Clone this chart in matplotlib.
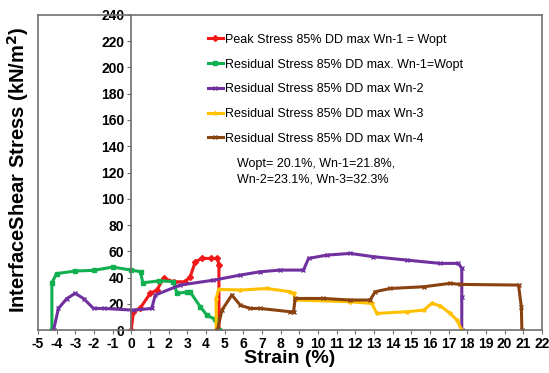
import matplotlib
matplotlib.use('Agg')
import matplotlib.pyplot as plt

plt.rcParams['font.family'] = ['Liberation Sans', 'DejaVu Sans']
plt.rcParams['axes.unicode_minus'] = False

# Peak stress, Wn-1 = Wopt
peak_x = [0.0, 0.12, 0.48, 1.02, 1.38, 1.73, 2.27, 2.86, 3.16, 3.43, 3.79, 4.3, 4.62, 4.7, 4.7]
peak_y = [0.0, 14.0, 16.7, 28.0, 30.5, 39.6, 36.8, 36.8, 40.6, 52.0, 54.6, 54.6, 54.6, 49.5, 0.0]

# Residual stress, Wn-1 = Wopt
res1_x = [-4.25, -4.25, -4.0, -3.0, -2.0, -1.0, 0.0, 0.5, 0.62, 1.5, 2.26, 2.45, 3.0, 3.16, 3.7, 4.05, 4.5, 4.68]
res1_y = [0.0, 36.0, 43.0, 45.0, 45.5, 48.0, 45.7, 44.5, 36.0, 37.5, 37.0, 28.0, 29.0, 29.0, 17.8, 11.4, 8.1, 0.0]

# Residual stress Wn-2
res2_x = [-4.16, -3.9, -3.45, -3.0, -2.55, -2.02, -1.48, 0.1, 1.1, 1.29, 2.62, 4.4, 5.84, 6.9, 7.98, 9.23,
          9.5, 10.48, 11.73, 12.98, 14.77, 16.55, 17.53, 17.71, 17.71, 17.71]
res2_y = [0.0, 16.5, 24.0, 28.0, 24.0, 16.5, 16.5, 15.2, 16.5, 26.7, 34.3, 38.0, 41.9, 44.4, 45.7, 45.7,
          54.6, 57.1, 58.4, 55.9, 53.3, 50.8, 50.8, 47.0, 25.4, 0.0]

# Residual stress Wn-3
res3_x = [4.55, 4.55, 4.68, 5.84, 7.27, 8.52, 8.7, 8.78, 11.73, 12.89, 13.16, 14.77, 15.66, 16.1,
          16.55, 17.09, 17.45, 17.71]
res3_y = [0.0, 24.0, 31.0, 30.5, 31.7, 29.2, 27.9, 22.9, 21.6, 20.3, 12.7, 14.0, 15.2, 20.3,
          18.5, 12.7, 7.6, 0.0]

# Residual stress Wn-4
res4_x = [4.62, 4.86, 5.39, 5.84, 6.37, 6.9, 8.52, 8.7, 8.78, 10.3, 11.73, 12.8, 13.07, 13.87,
          15.66, 17.09, 17.62, 20.75, 20.9, 20.93]
res4_y = [0.0, 15.2, 26.7, 19.0, 16.5, 16.5, 14.0, 14.0, 24.1, 24.1, 22.9, 22.9, 29.2, 31.7,
          33.0, 35.6, 34.8, 34.3, 17.8, 0.0]

labels = ['Peak Stress 85% DD max Wn-1 = Wopt',
          'Residual Stress 85% DD max. Wn-1=Wopt',
          'Residual Stress 85% DD max Wn-2',
          'Residual Stress 85% DD max Wn-3',
          'Residual Stress 85% DD max Wn-4']
colors = ['#f01818', '#10b050', '#7030a0', '#ffc000', '#8a4210']
markers = ['D', 's', 'x', '*', 'x']

fig = plt.figure(figsize=(5.49, 3.73), dpi=100)
ax = fig.add_axes([0.069, 0.115, 0.918, 0.845])

series = [(peak_x, peak_y), (res1_x, res1_y), (res2_x, res2_y), (res3_x, res3_y), (res4_x, res4_y)]
for (xs, ys), lab, c, m in zip(series, labels, colors, markers):
    ax.plot(xs, ys, color=c, lw=2.2, marker=m, ms=3, mew=1, label=lab)

ax.set_xlim(-5, 22)
ax.set_ylim(0, 240)
ax.set_xticks(range(-5, 23))
ax.set_yticks(range(0, 241, 20))

# y axis crosses at x = 0, frame kept around the plot
ax.spines['left'].set_position(('data', 0))
for s in ['left', 'right', 'top', 'bottom']:
    ax.spines[s].set_color('#707070')
    ax.spines[s].set_linewidth(1.2)
ax.plot([0, 0], [0, 1], transform=ax.transAxes, color='#707070', lw=1.2, clip_on=False)

ax.tick_params(axis='both', direction='out', length=3, color='#707070', labelsize=10, pad=2)
for t in ax.get_xticklabels() + ax.get_yticklabels():
    t.set_fontweight('bold')

ax.set_xlabel('Strain (%)', fontsize=14, fontweight='bold', labelpad=-1)
ax.set_ylabel('InterfaceShear Stress (kN/m$\\mathbf{^2}$)', fontsize=14.5, fontweight='bold')
fig.text(0.033, 0.545, ax.get_ylabel(), rotation=90, fontsize=14.5, fontweight='bold',
         ha='center', va='center')
ax.set_ylabel('')

ax.legend(loc='upper left', bbox_to_anchor=(0.325, 0.96), frameon=False, fontsize=9,
          handlelength=1.2, handletextpad=0.2, labelspacing=1.02, borderpad=0)

ax.text(0.395, 0.545, 'Wopt= 20.1%, Wn-1=21.8%,\nWn-2=23.1%, Wn-3=32.3%', transform=ax.transAxes,
        fontsize=9, va='top', ha='left', linespacing=1.35)

fig.savefig('out.png', dpi=100)
